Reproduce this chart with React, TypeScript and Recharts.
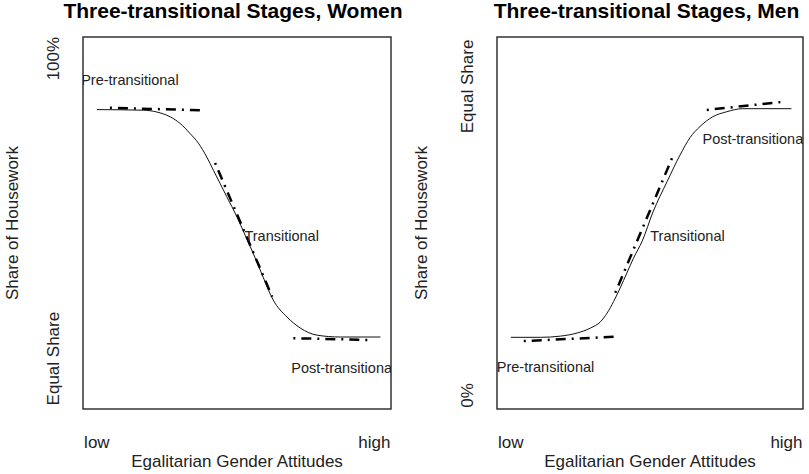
import React from 'react';
import { ComposedChart, Line, Scatter, XAxis, YAxis, ReferenceArea } from 'recharts';

// x: 0 = low, 1 = high egalitarian attitudes
const xTicks = [0, 1];
const xTickLabels = ['low', 'high'];
const stageNames = ['Pre-transitional', 'Transitional', 'Post-transitional'];

// Women: share of housework (1 = 100%, 0.5 = equal share)
const womenYTicks = [0.5, 1];
const womenYTickLabels = ['Equal Share', '100%'];
const womenCurveX = [0, 0.167, 0.216, 0.264, 0.3, 0.336, 0.366, 0.396, 0.42, 0.444, 0.468, 0.505, 0.534, 0.563, 0.599, 0.635, 0.686, 0.733, 0.794, 0.877, 1.022];
const womenCurveY = [0.915, 0.914, 0.911, 0.903, 0.892, 0.875, 0.859, 0.836, 0.814, 0.792, 0.77, 0.736, 0.706, 0.676, 0.636, 0.598, 0.569, 0.551, 0.539, 0.536, 0.536];
const womenPreX = [0.047, 0.372];
const womenPreY = [0.918, 0.914];
const womenTransX = [0.426, 0.632];
const womenTransY = [0.826, 0.603];
const womenPostX = [0.708, 0.986];
const womenPostY = [0.534, 0.531];
const womenLabelX = [0.119, 0.666, 0.888];
const womenLabelY = [0.964, 0.704, 0.484];

// Men: share of housework (0 = 0%, 0.5 = equal share)
const menYTicks = [0, 0.5];
const menYTickLabels = ['0%', 'Equal Share'];
const menCurveX = [0, 0.108, 0.181, 0.241, 0.289, 0.325, 0.349, 0.373, 0.397, 0.421, 0.445, 0.477, 0.516, 0.567, 0.614, 0.65, 0.686, 0.733, 0.783, 0.841, 1.018];
const menCurveY = [0.094, 0.094, 0.096, 0.101, 0.109, 0.119, 0.133, 0.152, 0.174, 0.198, 0.222, 0.25, 0.297, 0.346, 0.389, 0.417, 0.435, 0.451, 0.459, 0.464, 0.464];
const menPreX = [0.047, 0.379];
const menPreY = [0.088, 0.095];
const menTransX = [0.379, 0.585];
const menTransY = [0.166, 0.384];
const menPostX = [0.711, 0.986];
const menPostY = [0.462, 0.475];
const menLabelX = [0.126, 0.641, 0.884];
const menLabelY = [0.046, 0.258, 0.415];

const X_DOMAIN: [number, number] = [-0.05, 1.06];
const WOMEN_Y_DOMAIN: [number, number] = [0.416, 1.036];
const MEN_Y_DOMAIN: [number, number] = [-0.022, 0.58];

const FONT = '"Liberation Sans", Arial, sans-serif';
const TEXT = '#222';
const DASH = '2 6 10 6';

const zip = (xs: number[], ys: number[]) => xs.map((x, i) => ({ x, y: ys[i] }));

type PanelProps = {
    id: string;
    left: number;
    yAxisWidth: number;
    marginRight: number;
    yDomain: [number, number];
    yTicks: number[];
    yTickLabels: string[];
    yTitleOffset: number;
    curve: { x: number; y: number }[];
    pre: { x: number; y: number }[];
    trans: { x: number; y: number }[];
    post: { x: number; y: number }[];
    labels: { x: number; y: number; label: string }[];
};

const Panel: React.FC<PanelProps> = (p) => {
    const clipId = `plot-clip-${p.id}`;
    const yTick = (props: any) => {
        const idx = p.yTicks.indexOf(props.payload.value);
        const cx = props.x - 30;
        return (
            <text
                x={cx}
                y={props.y}
                dy="0.35em"
                textAnchor="middle"
                transform={`rotate(-90, ${cx}, ${props.y})`}
                fontSize={17}
                fill={TEXT}
                fontFamily={FONT}
            >
                {p.yTickLabels[idx]}
            </text>
        );
    };
    const xTick = (props: any) => {
        const idx = xTicks.indexOf(props.payload.value);
        return (
            <text x={props.x} y={props.y + 39} textAnchor="middle" fontSize={17} fill={TEXT} fontFamily={FONT}>
                {xTickLabels[idx]}
            </text>
        );
    };
    const stageLabel = (props: any) => (
        <text
            x={props.cx}
            y={props.cy}
            dy="0.35em"
            textAnchor="middle"
            fontSize={14.5}
            fill={TEXT}
            fontFamily={FONT}
            clipPath={`url(#${clipId})`}
        >
            {props.payload.label}
        </text>
    );
    // plot frame; also defines a clip region used by the stage labels
    const frame = (props: any) => (
        <g>
            <defs>
                <clipPath id={clipId}>
                    <rect x={props.x} y={props.y} width={props.width} height={props.height} />
                </clipPath>
            </defs>
            <rect x={props.x} y={props.y} width={props.width} height={props.height} fill="none" stroke="#333" strokeWidth={1.5} />
        </g>
    );

    return (
        <div style={{ position: 'absolute', left: p.left, top: 0 }}>
            <ComposedChart
                width={404}
                height={474}
                margin={{ top: 37, right: p.marginRight, bottom: 0, left: 0 }}
            >
                <XAxis
                    type="number"
                    dataKey="x"
                    domain={X_DOMAIN}
                    allowDataOverflow
                    ticks={xTicks}
                    tick={xTick}
                    tickLine={false}
                    axisLine={false}
                    tickSize={0}
                    tickMargin={0}
                    height={65}
                    label={{
                        content: ({ viewBox }: any) => (
                            <text
                                x={viewBox.x + viewBox.width / 2}
                                y={viewBox.y + 58}
                                textAnchor="middle"
                                fontSize={17}
                                fill={TEXT}
                                fontFamily={FONT}
                            >
                                Egalitarian Gender Attitudes
                            </text>
                        ),
                    }}
                />
                <YAxis
                    type="number"
                    domain={p.yDomain}
                    allowDataOverflow
                    ticks={p.yTicks}
                    tick={yTick}
                    tickLine={false}
                    axisLine={false}
                    tickSize={0}
                    tickMargin={0}
                    width={p.yAxisWidth}
                    label={{
                        content: ({ viewBox }: any) => {
                            const cx = viewBox.x + viewBox.width - p.yTitleOffset;
                            const cy = viewBox.y + viewBox.height / 2;
                            return (
                                <text
                                    x={cx}
                                    y={cy}
                                    dy="0.35em"
                                    textAnchor="middle"
                                    transform={`rotate(-90, ${cx}, ${cy})`}
                                    fontSize={17}
                                    fill={TEXT}
                                    fontFamily={FONT}
                                >
                                    Share of Housework
                                </text>
                            );
                        },
                    }}
                />
                <ReferenceArea
                    x1={X_DOMAIN[0]}
                    x2={X_DOMAIN[1]}
                    y1={p.yDomain[0]}
                    y2={p.yDomain[1]}
                    shape={frame}
                    ifOverflow="visible"
                />
                <Line data={p.curve} dataKey="y" type="monotone" stroke="#111" strokeWidth={1} dot={false} isAnimationActive={false} />
                <Line data={p.pre} dataKey="y" type="linear" stroke="#000" strokeWidth={2.5} strokeDasharray={DASH} dot={false} isAnimationActive={false} />
                <Line data={p.trans} dataKey="y" type="linear" stroke="#000" strokeWidth={2.5} strokeDasharray={DASH} dot={false} isAnimationActive={false} />
                <Line data={p.post} dataKey="y" type="linear" stroke="#000" strokeWidth={2.5} strokeDasharray={DASH} dot={false} isAnimationActive={false} />
                <Scatter data={p.labels} dataKey="y" shape={stageLabel} isAnimationActive={false} />
            </ComposedChart>
        </div>
    );
};

export default function App() {
    const womenLabels = stageNames.map((label, i) => ({ x: womenLabelX[i], y: womenLabelY[i], label }));
    const menLabels = stageNames.map((label, i) => ({ x: menLabelX[i], y: menLabelY[i], label }));
    return (
        <div style={{ position: 'absolute', left: 0, top: 0, width: 809, height: 474, background: '#fff', overflow: 'hidden' }}>
            <svg width={809} height={30} style={{ position: 'absolute', left: 0, top: 0 }}>
                <text x={233} y={18} textAnchor="middle" fontSize={21} fontWeight="bold" fontFamily={FONT} fill="#000">
                    Three-transitional Stages, Women
                </text>
                <text x={646.5} y={18} textAnchor="middle" fontSize={21} fontWeight="bold" fontFamily={FONT} fill="#000">
                    Three-transitional Stages, Men
                </text>
            </svg>
            <Panel
                id="women"
                left={0}
                yAxisWidth={83}
                marginRight={13}
                yDomain={WOMEN_Y_DOMAIN}
                yTicks={womenYTicks}
                yTickLabels={womenYTickLabels}
                yTitleOffset={71}
                curve={zip(womenCurveX, womenCurveY)}
                pre={zip(womenPreX, womenPreY)}
                trans={zip(womenTransX, womenTransY)}
                post={zip(womenPostX, womenPostY)}
                labels={womenLabels}
            />
            <Panel
                id="men"
                left={405}
                yAxisWidth={92}
                marginRight={6}
                yDomain={MEN_Y_DOMAIN}
                yTicks={menYTicks}
                yTickLabels={menYTickLabels}
                yTitleOffset={75.5}
                curve={zip(menCurveX, menCurveY)}
                pre={zip(menPreX, menPreY)}
                trans={zip(menTransX, menTransY)}
                post={zip(menPostX, menPostY)}
                labels={menLabels}
            />
        </div>
    );
}
